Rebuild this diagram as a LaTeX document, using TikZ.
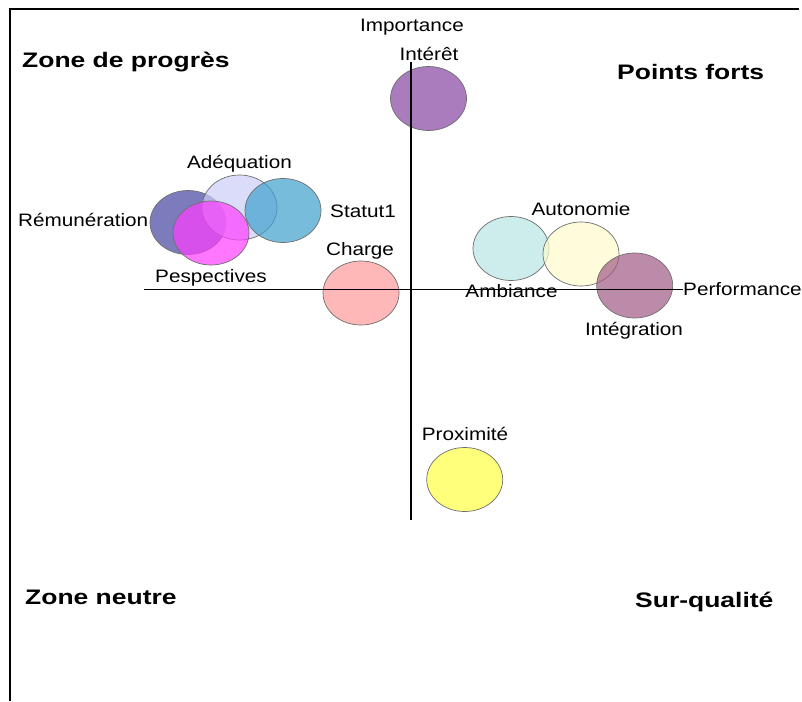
\documentclass[tikz,border=0pt]{standalone}
\usepackage{fontspec}
\setmainfont{Liberation Sans}
\usetikzlibrary{shapes.geometric}
\definecolor{cInteret}{RGB}{134,69,162}
\definecolor{cRemun}{RGB}{69,69,162}
\definecolor{cAdeq}{RGB}{205,205,248}
\definecolor{cStatut}{RGB}{62,162,205}
\definecolor{cPesp}{RGB}{255,62,255}
\definecolor{cCharge}{RGB}{255,155,155}
\definecolor{cAmb}{RGB}{184,229,229}
\definecolor{cAuto}{RGB}{255,252,205}
\definecolor{cInteg}{RGB}{162,91,134}
\definecolor{cProx}{RGB}{255,255,69}
\definecolor{cEdge}{RGB}{110,110,110}
\newcommand{\lbltxt}[1]{\scalebox{1.15}[1]{#1}}
\newcommand{\zonetxt}[1]{\scalebox{1.26}[1]{\bfseries #1}}
\tikzset{
  bub/.style={ellipse, draw=cEdge, line width=0.7pt, fill opacity=0.7, draw opacity=1, inner sep=0pt, minimum width=76pt, minimum height=64pt},
  lbl/.style={inner sep=0pt, anchor=base, font=\fontsize{18}{20}\selectfont},
  lblw/.style={lbl, anchor=base west},
  zone/.style={inner sep=0pt, anchor=base west, font=\fontsize{21}{24}\selectfont},
  axis/.style={line width=1.6pt, black},
  frame/.style={line width=2pt, black}
}
\begin{document}
\begin{tikzpicture}[x=1pt,y=-1pt]
\useasboundingbox[fill=white] (0,0) rectangle (802,701);
% frame
\coordinate (ftl) at (10,9);
\coordinate (ftr) at (799,9);
\coordinate (fbl) at (10,701);
\draw[frame] (ftr) -- (ftl) -- (fbl);
% bubbles
\node[bub, fill=cInteret] (interet) at (428.5,98.5) {};
\node[bub, fill=cRemun] (remun) at (188,222.5) {};
\node[bub, fill=cAdeq, minimum width=75pt, minimum height=65pt] (adeq) at (239.5,207.5) {};
\node[bub, fill=cStatut] (statut) at (283,210.5) {};
\node[bub, fill=cPesp] (pesp) at (211,233) {};
\node[bub, fill=cCharge] (charge) at (361,293) {};
\node[bub, fill=cAmb] (amb) at (511,248.5) {};
\node[bub, fill=cAuto] (auto) at (581,254) {};
\node[bub, fill=cInteg, minimum height=65pt] (integ) at (634.7,285.5) {};
\node[bub, fill=cProx] (prox) at (464.7,479.5) {};
% axes
\coordinate (hl) at (144,289.5);
\coordinate (hr) at (683,289.5);
\coordinate (vt) at (411,62);
\coordinate (vb) at (411,520);
\draw[axis] (hl) -- (hr);
\draw[axis] (vt) -- (vb);
% zone titles
\node[zone] (zprog) at (22,67) {\zonetxt{Zone de progrès}};
\node[zone] (zforts) at (617,79.5) {\zonetxt{Points forts}};
\node[zone] (zneutre) at (25,604.5) {\zonetxt{Zone neutre}};
\node[zone] (zsurq) at (635,607) {\zonetxt{Sur-qualité}};
% labels
\node[lbl] (limp) at (412,32) {\lbltxt{Importance}};
\node[lbl] (lint) at (429,60) {\lbltxt{Intérêt}};
\node[lbl] (ladeq) at (239.5,168) {\lbltxt{Adéquation}};
\node[lblw] (lremun) at (18,226) {\lbltxt{Rémunération}};
\node[lbl] (lstat) at (363,217) {\lbltxt{Statut1}};
\node[lbl] (lcharge) at (360,255) {\lbltxt{Charge}};
\node[lbl] (lpesp) at (211,282) {\lbltxt{Pespectives}};
\node[lbl] (lauto) at (581,215) {\lbltxt{Autonomie}};
\node[lbl] (lamb) at (511.5,297.5) {\lbltxt{Ambiance}};
\node[lblw] (lperf) at (683,295) {\lbltxt{Performance}};
\node[lbl] (linteg) at (634,335) {\lbltxt{Intégration}};
\node[lbl] (lprox) at (465,440) {\lbltxt{Proximité}};
\end{tikzpicture}
\end{document}
